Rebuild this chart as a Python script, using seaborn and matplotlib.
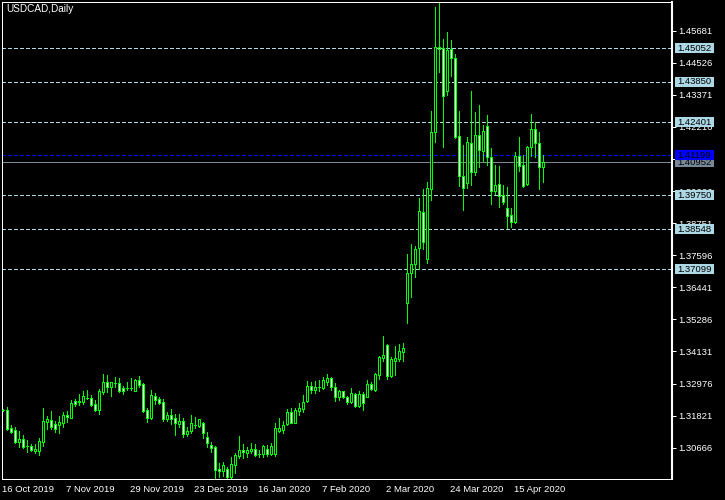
"""
USDCAD daily candles in a MetaTrader-style dark chart.
"""

import numpy as np
import pandas as pd
import matplotlib
matplotlib.use("Agg")
import matplotlib.pyplot as plt
import matplotlib.transforms as mtransforms
from matplotlib.patches import Rectangle
import seaborn as sns

TITLE = "USDCAD,Daily"
FIRST_DAY = "2019-10-16"
HOLIDAYS = ["2019-12-25", "2020-01-01"]
LABEL_EVERY = 16

OPEN = [
    1.3202, 1.3201, 1.3137, 1.3132, 1.3088, 1.3098, 1.3072, 1.3072, 1.3056, 1.3056,
    1.3088, 1.3160, 1.3166, 1.3151, 1.3149, 1.3157, 1.3185, 1.3175, 1.3235, 1.3232,
    1.3232, 1.3246, 1.3245, 1.3224, 1.3204, 1.3266, 1.3302, 1.3284, 1.3298, 1.3299,
    1.3280, 1.3280, 1.3281, 1.3272, 1.3310, 1.3296, 1.3202, 1.3172, 1.3253, 1.3241,
    1.3230, 1.3169, 1.3183, 1.3172, 1.3152, 1.3164, 1.3115, 1.3127, 1.3149, 1.3145,
    1.3157, 1.3104, 1.3075, 1.3070, 1.2991, 1.2983, 1.2989, 1.2960, 1.3004, 1.3037,
    1.3058, 1.3049, 1.3055, 1.3062, 1.3043, 1.3043, 1.3062, 1.3043, 1.3044, 1.3127,
    1.3129, 1.3152, 1.3196, 1.3157, 1.3199, 1.3205, 1.3236, 1.3289, 1.3274, 1.3284,
    1.3281, 1.3304, 1.3316, 1.3286, 1.3250, 1.3271, 1.3250, 1.3232, 1.3260, 1.3217,
    1.3260, 1.3250, 1.3295, 1.3274, 1.3328, 1.3391, 1.3436, 1.3325, 1.3380, 1.3385,
    1.3412, 1.3589, 1.3695, 1.3727, 1.3784, 1.3916, 1.3745, 1.3999, 1.4204, 1.4510,
    1.4505, 1.4352, 1.4501, 1.4469, 1.4190, 1.4046, 1.4019, 1.4165, 1.4060, 1.4193,
    1.4136, 1.4225, 1.4112, 1.3992, 1.4015, 1.3977, 1.3929, 1.3904, 1.3880, 1.4117,
    1.4084, 1.4015, 1.4148, 1.4213, 1.4163, 1.4076,
]
HIGH = [
    1.3206, 1.3212, 1.3148, 1.3140, 1.3127, 1.3111, 1.3094, 1.3080, 1.3080, 1.3100,
    1.3210, 1.3181, 1.3199, 1.3164, 1.3181, 1.3195, 1.3199, 1.3238, 1.3241, 1.3260,
    1.3270, 1.3274, 1.3255, 1.3238, 1.3277, 1.3332, 1.3328, 1.3303, 1.3320, 1.3318,
    1.3290, 1.3302, 1.3316, 1.3313, 1.3326, 1.3301, 1.3208, 1.3274, 1.3265, 1.3250,
    1.3241, 1.3196, 1.3205, 1.3187, 1.3187, 1.3175, 1.3142, 1.3184, 1.3178, 1.3169,
    1.3160, 1.3124, 1.3088, 1.3073, 1.3010, 1.3016, 1.2998, 1.3032, 1.3049, 1.3109,
    1.3079, 1.3070, 1.3082, 1.3080, 1.3058, 1.3076, 1.3076, 1.3082, 1.3157, 1.3175,
    1.3164, 1.3205, 1.3208, 1.3211, 1.3229, 1.3256, 1.3307, 1.3304, 1.3307, 1.3310,
    1.3322, 1.3332, 1.3320, 1.3298, 1.3274, 1.3271, 1.3253, 1.3280, 1.3262, 1.3271,
    1.3268, 1.3310, 1.3304, 1.3337, 1.3397, 1.3469, 1.3440, 1.3392, 1.3433, 1.3440,
    1.3442, 1.3764, 1.3799, 1.3794, 1.3967, 1.3998, 1.4022, 1.4279, 1.4652, 1.4669,
    1.4537, 1.4562, 1.4535, 1.4484, 1.4279, 1.4157, 1.4186, 1.4351, 1.4274, 1.4301,
    1.4229, 1.4265, 1.4145, 1.4084, 1.4082, 1.4012, 1.4004, 1.3929, 1.4132, 1.4184,
    1.4120, 1.4153, 1.4268, 1.4238, 1.4202, 1.4120,
]
LOW = [
    1.3199, 1.3130, 1.3119, 1.3082, 1.3070, 1.3067, 1.3052, 1.3053, 1.3049, 1.3041,
    1.3073, 1.3134, 1.3133, 1.3124, 1.3118, 1.3142, 1.3160, 1.3172, 1.3217, 1.3219,
    1.3224, 1.3242, 1.3217, 1.3200, 1.3189, 1.3260, 1.3267, 1.3253, 1.3284, 1.3268,
    1.3260, 1.3274, 1.3274, 1.3270, 1.3286, 1.3196, 1.3160, 1.3169, 1.3223, 1.3224,
    1.3163, 1.3163, 1.3152, 1.3112, 1.3142, 1.3104, 1.3109, 1.3118, 1.3136, 1.3142,
    1.3103, 1.3068, 1.3052, 1.2954, 1.2962, 1.2965, 1.2956, 1.2957, 1.2974, 1.3029,
    1.3029, 1.3032, 1.3049, 1.3036, 1.3032, 1.3034, 1.3037, 1.3040, 1.3037, 1.3122,
    1.3118, 1.3148, 1.3155, 1.3155, 1.3184, 1.3196, 1.3232, 1.3265, 1.3265, 1.3271,
    1.3277, 1.3292, 1.3274, 1.3236, 1.3238, 1.3244, 1.3224, 1.3229, 1.3212, 1.3214,
    1.3202, 1.3248, 1.3274, 1.3271, 1.3313, 1.3380, 1.3313, 1.3320, 1.3328, 1.3380,
    1.3380, 1.3517, 1.3610, 1.3682, 1.3709, 1.3782, 1.3730, 1.3958, 1.4168, 1.4420,
    1.4150, 1.4337, 1.4405, 1.4181, 1.4010, 1.3922, 1.4003, 1.4012, 1.4048, 1.4078,
    1.4099, 1.4084, 1.3944, 1.3979, 1.3932, 1.3944, 1.3857, 1.3862, 1.3877, 1.4064,
    1.4004, 1.4012, 1.4117, 1.4114, 1.3998, 1.4024,
]
CLOSE = [
    1.3202, 1.3134, 1.3124, 1.3088, 1.3098, 1.3070, 1.3071, 1.3058, 1.3063, 1.3091,
    1.3163, 1.3169, 1.3140, 1.3134, 1.3159, 1.3184, 1.3176, 1.3228, 1.3225, 1.3234,
    1.3253, 1.3247, 1.3221, 1.3202, 1.3271, 1.3302, 1.3284, 1.3302, 1.3299, 1.3272,
    1.3271, 1.3281, 1.3280, 1.3310, 1.3292, 1.3200, 1.3175, 1.3256, 1.3238, 1.3229,
    1.3169, 1.3184, 1.3169, 1.3154, 1.3163, 1.3115, 1.3127, 1.3155, 1.3148, 1.3169,
    1.3121, 1.3082, 1.3066, 1.2986, 1.2983, 1.3004, 1.2962, 1.3007, 1.3040, 1.3058,
    1.3051, 1.3058, 1.3062, 1.3040, 1.3043, 1.3073, 1.3043, 1.3073, 1.3136, 1.3136,
    1.3148, 1.3194, 1.3157, 1.3202, 1.3208, 1.3231, 1.3289, 1.3274, 1.3286, 1.3285,
    1.3310, 1.3316, 1.3286, 1.3250, 1.3271, 1.3250, 1.3232, 1.3262, 1.3217, 1.3260,
    1.3226, 1.3295, 1.3278, 1.3331, 1.3392, 1.3400, 1.3325, 1.3386, 1.3391, 1.3415,
    1.3424, 1.3695, 1.3727, 1.3781, 1.3919, 1.3806, 1.4001, 1.4204, 1.4510, 1.4502,
    1.4334, 1.4499, 1.4469, 1.4186, 1.4046, 1.4001, 1.4166, 1.4060, 1.4193, 1.4139,
    1.4207, 1.4112, 1.3992, 1.4012, 1.3974, 1.3952, 1.3902, 1.3880, 1.4117, 1.4082,
    1.4009, 1.4148, 1.4213, 1.4163, 1.4076, 1.4095,
]

# horizontal levels drawn on the chart
LEVELS = [1.45052, 1.43850, 1.42401, 1.39750, 1.38548, 1.37099]
ASK = 1.41199
BID = 1.40952
PRICE_TICKS = [1.45681, 1.44526, 1.43371, 1.42216, 1.41061, 1.39906, 1.38751,
               1.37596, 1.36441, 1.35286, 1.34131, 1.32976, 1.31821, 1.30666]
Y_RANGE = (1.29539, 1.46714)

LIME = "#00ff00"
LEVEL_COLOR = "#add8e6"
ASK_COLOR = "#0000ff"
BID_COLOR = "#778899"

sns.set_theme(style="dark", rc={
    "axes.facecolor": "black", "figure.facecolor": "black",
    "axes.edgecolor": "white", "axes.linewidth": 0.72,
    "xtick.color": "white", "ytick.color": "white",
    "text.color": "white", "axes.grid": False,
})
plt.rcParams["font.family"] = ["Liberation Sans", "DejaVu Sans"]

dates = pd.bdate_range(FIRST_DAY, periods=len(OPEN) + len(HOLIDAYS))
dates = dates[~dates.isin(pd.to_datetime(HOLIDAYS))][:len(OPEN)]
df = pd.DataFrame({"date": dates, "open": OPEN, "high": HIGH, "low": LOW, "close": CLOSE})
df["bar"] = np.arange(len(df))
df["bull"] = df["close"] >= df["open"]

fig = plt.figure(figsize=(7.25, 5.0), dpi=100)
ax = fig.add_axes([2 / 725, 21 / 500, 670 / 725, 477 / 500])

# level lines sit behind the candles
for lvl in LEVELS:
    ax.axhline(lvl, color=LEVEL_COLOR, lw=0.72, dashes=(3.5, 2.5), zorder=1, antialiased=False)
ax.axhline(ASK, color=ASK_COLOR, lw=0.72, dashes=(3.5, 2.5), zorder=1, antialiased=False)
ax.axhline(BID, color=BID_COLOR, lw=0.72, zorder=1, antialiased=False)

# candles: wicks first, then bodies (black = up, white = down)
ax.vlines(df["bar"], df["low"], df["high"], color=LIME, lw=0.72, zorder=2, antialiased=False)
ax.bar(df["bar"], df["close"] - df["open"], bottom=df["open"], width=0.5,
       color=np.where(df["bull"], "black", "white"), edgecolor=LIME, linewidth=0.72,
       zorder=3, antialiased=False)

ax.set_xlim(-0.125, 167.375)
ax.set_ylim(*Y_RANGE)

tick_bars = df["bar"][::LABEL_EVERY]
ax.set_xticks(tick_bars)
ax.set_xticklabels([d.strftime("%-d %b %Y") for d in df["date"][::LABEL_EVERY]], ha="left")
ax.tick_params(axis="x", length=3, width=0.72, pad=1.5, labelsize=6.8, direction="out")

ax.yaxis.tick_right()
ax.set_yticks(PRICE_TICKS)
ax.set_yticklabels([f"{v:.5f}" for v in PRICE_TICKS])
ax.tick_params(axis="y", length=3, width=0.72, pad=1.5, labelsize=6.8, direction="out")
ax.spines["right"].set_linewidth(1.5)
for s in ax.spines.values():
    s.set_color("white")

# price tags on the right scale: 39 x 10 px boxes, the blue one drawn last
trans = mtransforms.blended_transform_factory(ax.transAxes, ax.transData)
px_y = (Y_RANGE[1] - Y_RANGE[0]) / 477
tags = [(v, LEVEL_COLOR) for v in LEVELS] + [(BID, BID_COLOR), (ASK, ASK_COLOR)]
for k, (val, col) in enumerate(tags):
    ax.add_patch(Rectangle((1 + 3 / 670, val - 5 * px_y), 39 / 670, 10 * px_y,
                           transform=trans, facecolor=col, edgecolor="none",
                           clip_on=False, zorder=5 + k))
    ax.annotate(f"{val:.5f}", xy=(1.0, val), xycoords=trans, xytext=(4.0, -0.3),
                textcoords="offset points", ha="left", va="center", fontsize=6.8,
                color="black", annotation_clip=False, zorder=5 + k)

fig.text(6 / 725, 1 - 4 / 500, TITLE, color="white", fontsize=7.2, ha="left", va="top")

fig.savefig("out.png", dpi=100, facecolor="black")
